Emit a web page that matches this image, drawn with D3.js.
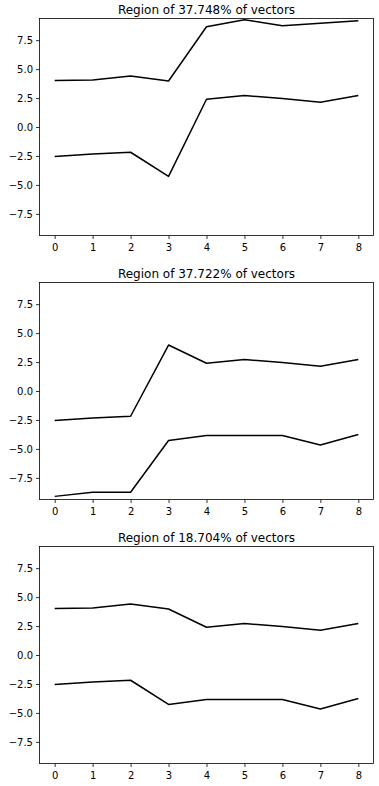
<!DOCTYPE html>
<html lang="en">
<head>
  <meta charset="UTF-8">
  <title>Regions of vectors</title>
  <script src="https://cdn.jsdelivr.net/npm/d3@7"></script>
  <style>
    body { margin: 0; background: #fff; }
    text { font-family: "DejaVu Sans", sans-serif; }
  </style>
</head>
<body>
  <script>
    // values
    const dims = [0, 1, 2, 3, 4, 5, 6, 7, 8];
    const titles = ["Region of 37.748% of vectors", "Region of 37.722% of vectors", "Region of 18.704% of vectors"];
    const yTicks = [-7.5, -5.0, -2.5, 0.0, 2.5, 5.0, 7.5];

    const upper1 = [4.02, 4.06, 4.40, 3.97, 8.66, 9.27, 8.74, 8.96, 9.17];
    const lower1 = [-2.55, -2.34, -2.18, -4.27, 2.40, 2.72, 2.46, 2.14, 2.72];
    const upper2 = [-2.55, -2.34, -2.18, 3.97, 2.40, 2.72, 2.46, 2.14, 2.72];
    const lower2 = [-9.10, -8.74, -8.74, -4.27, -3.85, -3.85, -3.85, -4.66, -3.76];
    const upper3 = [4.02, 4.06, 4.40, 3.97, 2.40, 2.72, 2.46, 2.14, 2.72];
    const lower3 = [-2.55, -2.34, -2.18, -4.27, -3.85, -3.85, -3.85, -4.66, -3.76];

    const panels = [
      { title: titles[0], lines: [upper1, lower1] },
      { title: titles[1], lines: [upper2, lower2] },
      { title: titles[2], lines: [upper3, lower3] }
    ];

    const w = 379, h = 786;
    const left = 39.5, right = 373.5;
    const tops = [18.5, 282.5, 546.5];
    const ph = 217;

    const svg = d3.select("body").append("svg")
      .attr("width", w)
      .attr("height", h);

    const xScale = d3.scaleLinear().domain([-0.4, 8.4]).range([left, right]);

    panels.forEach((p, i) => {
      const top = tops[i];
      const yScale = d3.scaleLinear().domain([-9.37, 9.37]).range([top + ph, top]);
      const g = svg.append("g");

      const line = d3.line()
        .x((d, j) => xScale(dims[j]))
        .y(d => yScale(d));

      p.lines.forEach(vals => {
        g.append("path")
          .datum(vals)
          .attr("d", line)
          .attr("fill", "none")
          .attr("stroke", "black")
          .attr("stroke-width", 1.5)
          .attr("stroke-linejoin", "round");
      });

      const xAxis = d3.axisBottom(xScale).tickValues(dims).tickFormat(d3.format("d")).tickSize(3.5).tickSizeOuter(0);
      const yAxis = d3.axisLeft(yScale).tickValues(yTicks).tickFormat(d3.format(".1f")).tickSize(3.5).tickSizeOuter(0);

      const gx = g.append("g")
        .attr("transform", "translate(0," + (top + ph) + ")")
        .call(xAxis);
      const gy = g.append("g")
        .attr("transform", "translate(" + left + ",0)")
        .call(yAxis);

      [gx, gy].forEach(a => {
        a.select(".domain").remove();
        a.selectAll(".tick line").attr("stroke", "black").attr("stroke-width", 0.8);
        a.selectAll(".tick text").attr("font-size", 10).attr("fill", "black")
          .style("font-family", "'DejaVu Sans', sans-serif");
      });
      gx.selectAll(".tick text").attr("dy", "0.9em");

      g.append("rect")
        .attr("x", left)
        .attr("y", top)
        .attr("width", right - left)
        .attr("height", ph)
        .attr("fill", "none")
        .attr("stroke", "black")
        .attr("stroke-width", 0.8);

      g.append("text")
        .attr("x", (left + right) / 2)
        .attr("y", top - 5)
        .attr("text-anchor", "middle")
        .attr("font-size", 12)
        .attr("fill", "black")
        .text(p.title);
    });
  </script>
</body>
</html>
